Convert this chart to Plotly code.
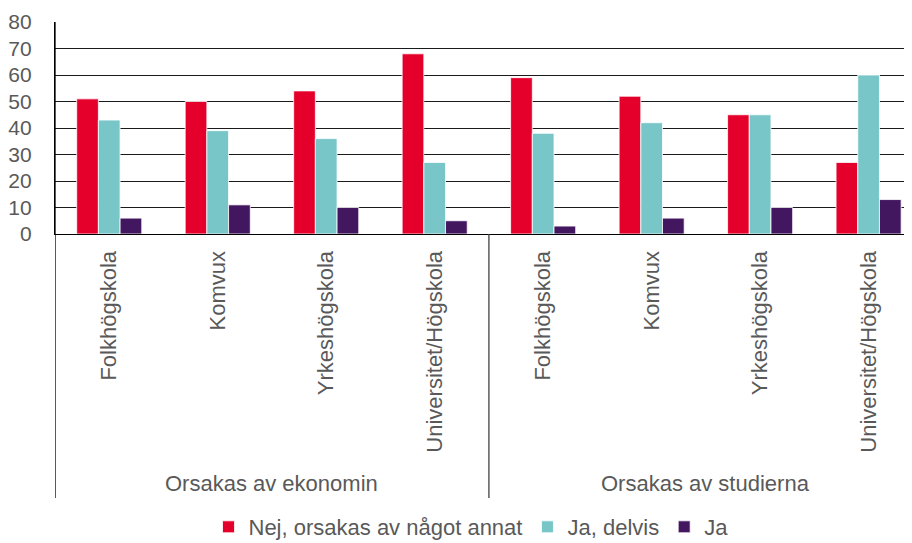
import plotly.graph_objects as go

groups = ["Orsakas av ekonomin", "Orsakas av studierna"]
schools = ["Folkhögskola", "Komvux", "Yrkeshögskola", "Universitet/Högskola"]
series_names = ["Nej, orsakas av något annat", "Ja, delvis", "Ja"]
nej = [51, 50, 54, 68, 59, 52, 45, 27]
ja_delvis = [43, 39, 36, 27, 38, 42, 45, 60]
ja = [6, 11, 10, 5, 3, 6, 10, 13]
colors = ["#E4002B", "#79C6C8", "#431660"]
y_ticks = [0, 10, 20, 30, 40, 50, 60, 70, 80]

cat_labels = [s for g in groups for s in schools]
xpos = list(range(len(cat_labels)))

OFF = 8  # default page body margin
W, H = 912 - OFF, 543 - OFF
ml, mt, mr = 55 - OFF, 22 - OFF, 0
axis_y = 234 - OFF
mb = H - axis_y
plot_h = H - mt - mb
text_color = "#595959"
font_family = "Liberation Sans, Arial, sans-serif"

fig = go.Figure()
for name, vals, col in zip(series_names, [nej, ja_delvis, ja], colors):
    fig.add_trace(go.Bar(
        x=xpos, y=vals, name=name,
        marker=dict(color=col, line=dict(color="white", width=0.8)),
    ))

def py(pix):
    # convert screenshot pixel y (from top) to paper coords
    return (H - mb - (pix - OFF)) / plot_h

shapes = []
n = len(schools)
shapes.append(dict(type="line", xref="x", yref="paper", x0=-0.5, x1=-0.5,
                   y0=py(498), y1=1, line=dict(color="#000000", width=1.3)))
shapes.append(dict(type="line", xref="x", yref="paper", x0=n - 0.5, x1=n - 0.5,
                   y0=py(498), y1=0, line=dict(color="#404040", width=1.3)))

annotations = []
for gi, g in enumerate(groups):
    center = gi * n + (n - 1) / 2
    annotations.append(dict(x=center, xref="x", y=py(484), yref="paper",
                            text=g, showarrow=False, xanchor="center", yanchor="middle",
                            font=dict(size=22, color=text_color, family=font_family)))

fig.update_layout(
    width=W, height=H,
    margin=dict(l=ml, r=mr, t=mt, b=mb, pad=0, autoexpand=False),
    plot_bgcolor="white", paper_bgcolor="white",
    barmode="group", bargap=0.4, bargroupgap=0,
    font=dict(family=font_family, color=text_color, size=21),
    showlegend=True,
    legend=dict(orientation="h", xref="container", yref="container",
                x=(471 - OFF) / W, xanchor="center", y=1 - (527 - OFF) / H, yanchor="middle",
                font=dict(size=22, color=text_color), itemwidth=30, traceorder="normal"),
    shapes=shapes, annotations=annotations,
    xaxis=dict(
        range=[-0.5, 7.4], tickmode="array", tickvals=xpos, ticktext=cat_labels,
        tickangle=-90, showgrid=False, zeroline=False, automargin=False,
        showline=True, linecolor="#000000", linewidth=1.3,
        ticks="", ticklabelstandoff=7,
        tickfont=dict(size=22, color=text_color),
    ),
    yaxis=dict(
        range=[0, 80], tickmode="array", tickvals=y_ticks, automargin=False,
        showgrid=True, gridcolor="#1a1a1a", gridwidth=1.3,
        zeroline=False, showline=True, linecolor="#000000", linewidth=1.3,
        ticks="", ticklabelstandoff=18,
        tickfont=dict(size=21, color=text_color),
    ),
)

fig.write_html("out.html")
